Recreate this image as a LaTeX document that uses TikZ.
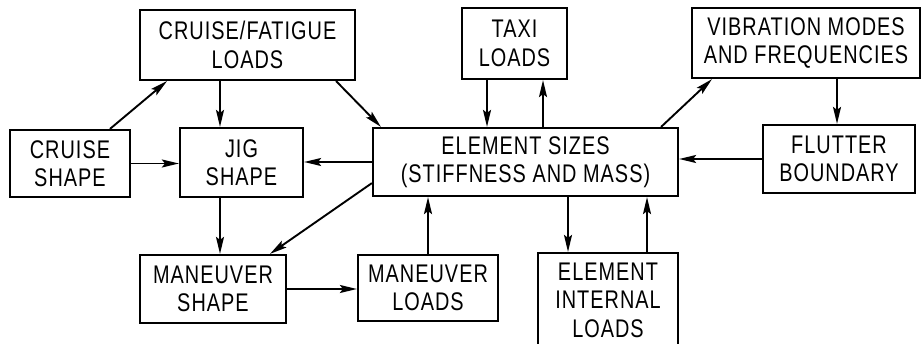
\documentclass[tikz,border=0pt]{standalone}
\usepackage{fontspec}
\setmainfont{Liberation Sans}[FakeStretch=0.78,LetterSpace=4]
\usetikzlibrary{arrows.meta}
\begin{document}
\begin{tikzpicture}[x=1pt,y=-1pt,
  box/.style={draw, line width=2.2pt, rectangle, align=center, inner sep=0pt,
    font=\fontsize{25.5}{28.5}\selectfont},
  arr/.style={line width=1.9pt, -{Stealth[length=17pt,width=8pt,inset=3pt]}}]
\useasboundingbox (0,0) rectangle (923,344);

% boxes
\node[box, minimum width=215, minimum height=70] (cf) at (247.5,45) {CRUISE/FATIGUE\\LOADS};
\node[box, minimum width=105, minimum height=71] (taxi) at (514.5,43.5) {TAXI\\LOADS};
\node[box, minimum width=228, minimum height=70] (vib) at (806,43) {VIBRATION MODES\\AND FREQUENCIES};
\node[box, minimum width=120, minimum height=67] (cs) at (70,163.5) {CRUISE\\SHAPE};
\node[box, minimum width=123, minimum height=69] (jig) at (241.5,162.5) {JIG\\SHAPE};
\node[box, minimum width=305, minimum height=68] (es) at (525.5,162) {ELEMENT SIZES\\(STIFFNESS AND MASS)};
\node[box, minimum width=152, minimum height=68] (fl) at (839,159) {FLUTTER\\BOUNDARY};
\node[box, minimum width=146, minimum height=68] (ms) at (213,289) {MANEUVER\\SHAPE};
\node[box, minimum width=140, minimum height=66] (ml) at (428,288) {MANEUVER\\LOADS};
\node[box, minimum width=140, minimum height=94] (ei) at (608,300) {ELEMENT\\INTERNAL\\LOADS};

% connectors
\draw[arr] ([xshift=40pt]cs.north) -- ([xshift=-80.5pt]cf.south);
\draw[arr] ([xshift=-27.5pt]cf.south) -- ([xshift=-27.5pt]cf.south |- jig.north);
\draw[arr] ([xshift=-20pt]cf.south east) -- ([xshift=9pt]es.north west);
\draw[arr] (cs.east) -- (cs.east -| jig.west);
\draw[arr] (es.west) -- (es.west -| jig.east);
\draw[arr] ([xshift=-27.5pt]taxi.south) -- ([xshift=-27.5pt]taxi.south |- es.north);
\draw[arr] ([xshift=28.5pt]taxi.south |- es.north) -- ([xshift=28.5pt]taxi.south);
\draw[arr] ([xshift=-18pt]es.north east) -- ([xshift=-94pt]vib.south);
\draw[arr] ([xshift=31pt]vib.south) -- ([xshift=31pt]vib.south |- fl.north);
\draw[arr] (fl.west) -- (fl.west -| es.east);
\draw[arr] ([xshift=-21.5pt]jig.south) -- ([xshift=-21.5pt]jig.south |- ms.north);
\draw[arr] ([yshift=14pt]es.south west) -- ([xshift=57pt]ms.north);
\draw[arr] (ms.east) -- (ms.east -| ml.west);
\draw[arr] (ml.north) -- (ml.north |- es.south);
\draw[arr] ([xshift=42.5pt]es.south) -- ([xshift=42.5pt]es.south |- ei.north);
\draw[arr] ([xshift=121.5pt]es.south |- ei.north) -- ([xshift=121.5pt]es.south);
\end{tikzpicture}
\end{document}
